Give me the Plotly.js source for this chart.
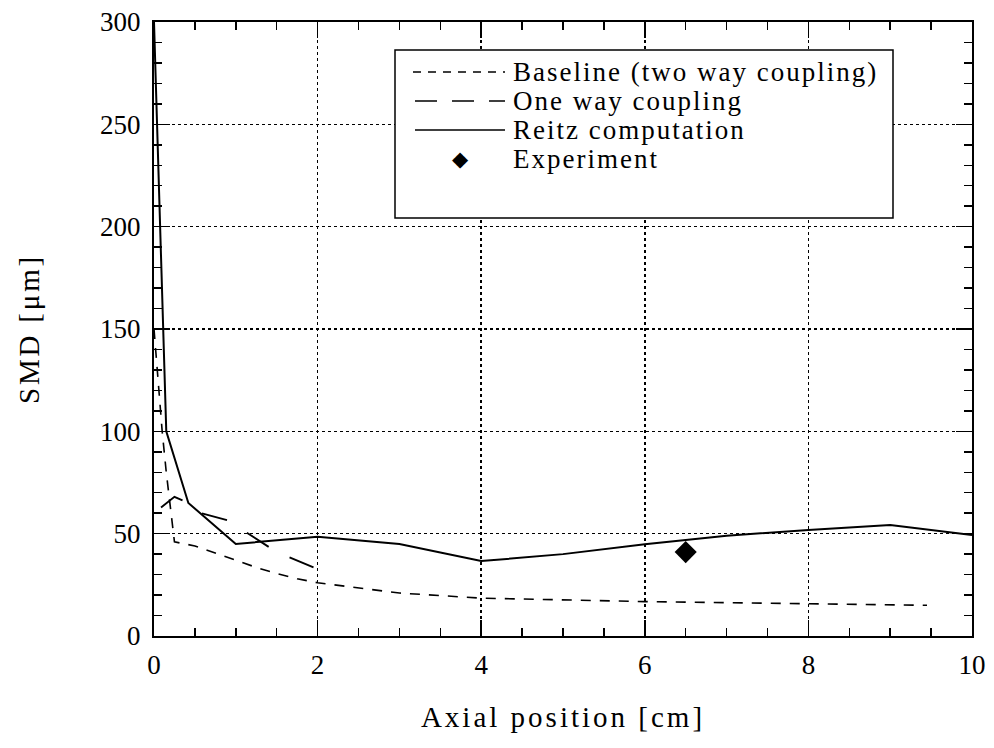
<!DOCTYPE html>
<html>
<head>
<meta charset="utf-8">
<script src="https://cdn.plot.ly/plotly-3.0.1.min.js"></script>
<style>
html,body{margin:0;padding:0;background:#fff;}
#chart{width:994px;height:748px;}
#chart .xtitle{letter-spacing:3px;}
#chart .ytitle{letter-spacing:2.8px;}
#chart .annotation-text{letter-spacing:2px;}
</style>
</head>
<body>
<div id="chart"></div>
<script>
// Data
var baselineX = [0, 0.1, 0.15, 0.25, 0.5, 0.75, 1.0, 1.25, 1.5, 1.75, 2.0, 3.0, 4.0, 5.0, 6.0, 7.0, 8.0, 9.0, 9.45];
var baselineY = [150, 100, 80, 46, 44, 40.5, 37, 33.5, 30.5, 28, 26, 21, 18.5, 17.5, 16.8, 16.3, 15.8, 15.3, 15];

var oneWayX = [0, 0.25, 0.42, 0.58, 0.9, 1.0, 1.5, 1.95];
var oneWayY = [60, 68, 65, 60, 56.5, 54, 41, 33.5];

var reitzX = [0, 0.15, 0.42, 1.0, 2.0, 3.0, 4.0, 5.0, 6.0, 7.0, 8.0, 9.0, 10.0];
var reitzY = [300, 100, 65, 45, 48.5, 45, 36.6, 40, 44.8, 49, 51.8, 54.2, 49.4];

var expX = [6.5];
var expY = [41];

var legendLabels = ['Baseline (two way coupling)', 'One way coupling', 'Reitz computation', 'Experiment'];
var xTitle = 'Axial position [cm]';
var yTitle = 'SMD [\u03bcm]';

var FONT = 'Liberation Serif, Times New Roman, serif';

var traces = [
  {x: baselineX, y: baselineY, mode: 'lines', name: legendLabels[0],
   line: {color: '#000', width: 1.6, dash: '10px,9px'}},
  {x: oneWayX, y: oneWayY, mode: 'lines', name: legendLabels[1],
   line: {color: '#000', width: 1.9, dash: '0px,9px,26px,14.5px'}},
  {x: reitzX, y: reitzY, mode: 'lines', name: legendLabels[2],
   line: {color: '#000', width: 2}},
  {x: expX, y: expY, mode: 'markers', name: legendLabels[3],
   marker: {symbol: 'diamond', size: 17, color: '#000'}}
];

// plot area in pixels
var L = 154, R = 972, T = 22, B = 636;
function px(x) { return (x - L) / (R - L); }
function py(y) { return (B - y) / (B - T); }

var legendY = [72, 101, 130, 159];
var LS = 2; // letter spacing applied via CSS to the legend texts

var shapes = [
  {type: 'rect', xref: 'paper', yref: 'paper', x0: px(395), x1: px(893), y0: py(218), y1: py(50),
   fillcolor: '#fff', line: {color: '#000', width: 1.5}, layer: 'above'},
  {type: 'line', xref: 'paper', yref: 'paper', x0: px(413), x1: px(505), y0: py(legendY[0]), y1: py(legendY[0]),
   line: {color: '#000', width: 1.4, dash: '8px,7px'}, layer: 'above'},
  {type: 'line', xref: 'paper', yref: 'paper', x0: px(415), x1: px(505), y0: py(legendY[1]), y1: py(legendY[1]),
   line: {color: '#000', width: 1.4, dash: '22px,15px'}, layer: 'above'},
  {type: 'line', xref: 'paper', yref: 'paper', x0: px(415), x1: px(505), y0: py(legendY[2]), y1: py(legendY[2]),
   line: {color: '#000', width: 1.4}, layer: 'above'}
];

var annotations = legendLabels.map(function (t, i) {
  return {text: t, xref: 'paper', yref: 'paper', x: px(511 + t.length * LS / 2), y: py(legendY[i]),
          xanchor: 'left', yanchor: 'middle', showarrow: false,
          font: {family: FONT, size: 27, color: '#000'}};
});
annotations.push({text: '\u25c6', xref: 'paper', yref: 'paper', x: px(460 + LS / 2), y: py(legendY[3]),
  xanchor: 'center', yanchor: 'middle', showarrow: false,
  font: {family: 'DejaVu Sans', size: 21, color: '#000'}});

var axisCommon = {
  showline: true, linecolor: '#000', linewidth: 2, mirror: 'allticks',
  ticks: 'inside', ticklen: 16, tickwidth: 1.5, tickcolor: '#000',
  showgrid: true, gridcolor: '#000', gridwidth: 1.5, griddash: 'dot',
  zeroline: false,
  tickfont: {family: FONT, size: 27, color: '#000'}
};

var layout = {
  width: 994, height: 748,
  paper_bgcolor: '#fff', plot_bgcolor: '#fff',
  margin: {l: L, r: 994 - R, t: T, b: 748 - B},
  showlegend: false,
  font: {family: FONT, color: '#000'},
  xaxis: Object.assign({}, axisCommon, {
    range: [0, 10], dtick: 2, tick0: 0, ticklabelstandoff: 4,
    minor: {ticks: 'inside', ticklen: 8, dtick: 0.5, tickwidth: 1.5, tickcolor: '#000', showgrid: false},
    title: {text: xTitle, font: {family: FONT, size: 29, color: '#000'}, standoff: 27}
  }),
  yaxis: Object.assign({}, axisCommon, {
    range: [0, 300], dtick: 50, tick0: 0, ticklabelstandoff: 6,
    minor: {ticks: 'inside', ticklen: 8, dtick: 10, tickwidth: 1.5, tickcolor: '#000', showgrid: false},
    title: {text: yTitle, font: {family: FONT, size: 29, color: '#000'}, standoff: 52}
  }),
  shapes: shapes,
  annotations: annotations
};

Plotly.newPlot('chart', traces, layout, {displayModeBar: false, staticPlot: true});
</script>
</body>
</html>
